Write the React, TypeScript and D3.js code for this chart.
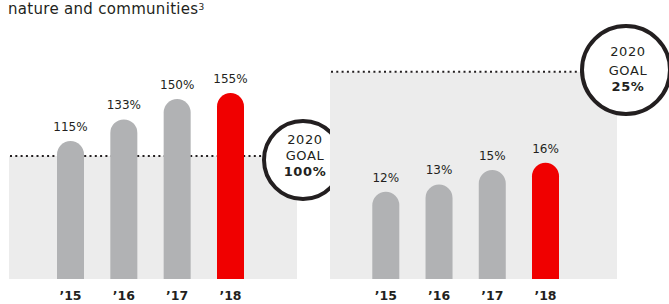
import React from 'react';
import * as d3 from 'd3';

// data
const years = ["'15", "'16", "'17", "'18"];
const leftValues = [115, 133, 150, 155];
const rightValues = [12, 13, 15, 16];
const leftGoal = { year: '2020', label: 'GOAL', value: '100%' };
const rightGoal = { year: '2020', label: 'GOAL', value: '25%' };
const title = 'nature and communities';
const titleNote = '3';

const W = 669;
const H = 304;
const FONT = '"DejaVu Sans", sans-serif';
const INK = '#231f20';
const GREY = '#b1b2b4';
const RED = '#f00000';
const SHADE = '#ececec';
const BASE = 279;
const BAR_W = 27;

type PanelProps = {
  values: number[];
  xRange: [number, number];
  shade: [number, number];
  yMax: number;
  pxPerUnit: number;
  lineEnd: number;
  circle: { cx: number; cy: number; r: number; dy: number[] };
  goal: { year: string; label: string; value: string };
};

// bar with a fully rounded top
const barPath = (x: number, top: number, w: number, base: number) => {
  const r = w / 2;
  const p = d3.path();
  p.moveTo(x, base);
  p.lineTo(x, top + r);
  p.arc(x + r, top + r, r, Math.PI, 0);
  p.lineTo(x + w, base);
  p.closePath();
  return p.toString();
};

const Panel = ({ values, xRange, shade, yMax, pxPerUnit, lineEnd, circle, goal }: PanelProps) => {
  const x = d3.scalePoint<string>().domain(years).range(xRange);
  const y = d3.scaleLinear().domain([0, yMax]).range([BASE, BASE - yMax * pxPerUnit]);
  const top = y(yMax);
  return (
    <g>
      <rect x={shade[0]} y={top} width={shade[1] - shade[0]} height={BASE - top} fill={SHADE} />
      <line
        x1={shade[0] + 1}
        x2={lineEnd}
        y1={top}
        y2={top}
        stroke={INK}
        strokeWidth={2}
        strokeDasharray="2 3.3"
      />
      {values.map((v, i) => {
        const cx = x(years[i]) as number;
        return (
          <g key={years[i]}>
            <path d={barPath(cx - BAR_W / 2, y(v), BAR_W, BASE)} fill={i === values.length - 1 ? RED : GREY} />
            <text x={cx} y={y(v) - 10} textAnchor="middle" fontSize={12} fill={INK} fontFamily={FONT}>
              {v}%
            </text>
            <text x={cx} y={300} textAnchor="middle" fontSize={12.5} fontWeight="bold" fill={INK} fontFamily={FONT}>
              {years[i].replace("'", '\u2019')}
            </text>
          </g>
        );
      })}
      <circle cx={circle.cx} cy={circle.cy} r={circle.r} fill="#fff" stroke={INK} strokeWidth={4} />
      <g fontFamily={FONT} fontSize={13} fill={INK} textAnchor="middle" letterSpacing={0.6}>
        <text x={circle.cx + 2} y={circle.cy + circle.dy[0]}>{goal.year}</text>
        <text x={circle.cx + 2} y={circle.cy + circle.dy[1]}>{goal.label}</text>
        <text x={circle.cx + 2} y={circle.cy + circle.dy[2]} fontWeight="bold">{goal.value}</text>
      </g>
    </g>
  );
};

export default function App() {
  return (
    <svg width={W} height={H} style={{ display: 'block', position: 'absolute', left: 0, top: 0 }}>
      <rect width={W} height={H} fill="#fff" />
      <text x={8} y={13.5} fontFamily={FONT} fontSize={15} fill={INK} letterSpacing={0.3}>
        {title}
        <tspan fontSize={9} dy={-4}>{titleNote}</tspan>
      </text>
      <Panel
        values={leftValues}
        xRange={[70.5, 230.5]}
        shade={[9, 297]}
        yMax={102.5}
        pxPerUnit={1.2}
        lineEnd={262}
        circle={{ cx: 303, cy: 160, r: 39, dy: [-16, 0, 16] }}
        goal={leftGoal}
      />
      <Panel
        values={rightValues}
        xRange={[385.8, 545.5]}
        shade={[330, 617]}
        yMax={28.5}
        pxPerUnit={7.27}
        lineEnd={582}
        circle={{ cx: 626, cy: 70, r: 44, dy: [-14, 5, 21] }}
        goal={rightGoal}
      />
    </svg>
  );
}
